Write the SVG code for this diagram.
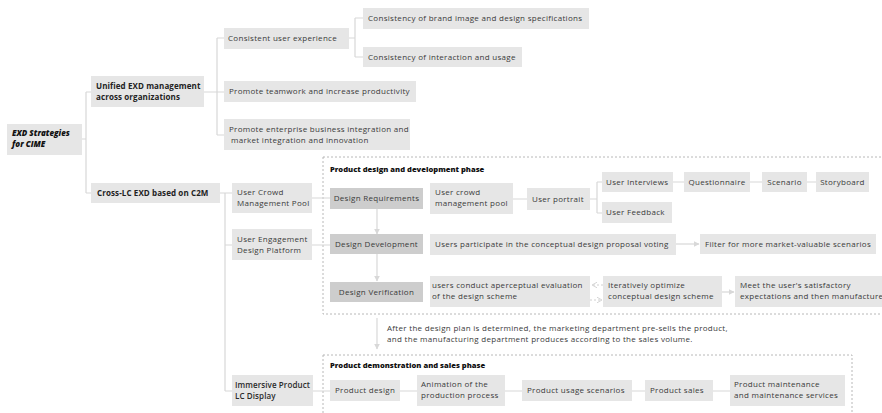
<svg xmlns="http://www.w3.org/2000/svg" width="882" height="413" viewBox="0 0 882 413">
<style>
.b{fill:#e6e6e6}
.d{fill:#cdcdcd}
.t{font-family:"Open Sans","Liberation Sans",sans-serif;font-size:8px;letter-spacing:0.3px;fill:#3a3a3a}
.bt{font-family:"Open Sans","Liberation Sans",sans-serif;font-size:8px;font-weight:700;letter-spacing:0.1px;fill:#222}
.st{font-family:"Open Sans","Liberation Sans",sans-serif;font-size:8px;font-weight:600;letter-spacing:0.1px;fill:#2a2a2a}
.ph{font-family:"Open Sans","Liberation Sans",sans-serif;font-size:7.6px;font-weight:800;fill:#111}
.rt{font-family:"Open Sans","Liberation Sans",sans-serif;font-size:8px;font-weight:800;font-style:italic;fill:#111}
.ln{fill:none;stroke:#d8d8d8;stroke-width:1.2}
.ar{fill:none;stroke:#d8d8d8;stroke-width:1.2;marker-end:url(#ah)}
.da{fill:none;stroke:#d0d0d0;stroke-width:1;stroke-dasharray:2 2;marker-end:url(#oh)}
.box{fill:none;stroke:#b8b8b8;stroke-width:1;stroke-dasharray:2 2}
</style>
<defs>
<marker id="ah" viewBox="0 0 10 10" refX="9" refY="5" markerWidth="6" markerHeight="6" orient="auto" markerUnits="userSpaceOnUse"><path d="M0,0 L10,5 L0,10 z" fill="#d8d8d8"/></marker>
<marker id="oh" viewBox="0 0 10 10" refX="9" refY="5" markerWidth="6" markerHeight="6" orient="auto" markerUnits="userSpaceOnUse"><path d="M0,0 L9,5 L0,10" fill="none" stroke="#d0d0d0" stroke-width="1.5"/></marker>
</defs>
<rect width="882" height="413" fill="#ffffff"/>

<g id="phase-boxes">
<rect class="box" x="323" y="157" width="570" height="157"/>
<rect class="box" x="323" y="355" width="529" height="70"/>
<text class="ph" x="330" y="172">Product design and development phase</text>
<text class="ph" x="330" y="368">Product demonstration and sales phase</text>
</g>

<g id="connectors">
<path class="ln" d="M82,139 H86 M86,92 V193 M86,92 H91 M86,193 H91"/>
<path class="ln" d="M204,92 H217 M217,38 V135 M217,38 H224 M217,92 H224 M217,135 H224"/>
<path class="ln" d="M349,38 H355 M355,18 V57 M355,18 H363 M355,57 H363"/>
<path class="ln" d="M220,193 H232 M225,193 V391 M225,245 H232 M225,391 H232"/>
<path class="ln" d="M312,198 H330 M312,245 H330 M313,391 H330"/>
<path class="ln" d="M513,199 H527 M590,199 H597 M597,182 V213 M597,182 H602 M597,213 H602"/>
<path class="ln" d="M673,182 H684 M750,182 H762 M807,182 H816"/>
<path class="ln" d="M400,391 H417 M505,391 H522 M632,391 H645 M713,391 H730"/>
<path class="ar" d="M377,209 V234"/>
<path class="ar" d="M377,254 V281"/>
<path class="ar" d="M676,244 H699"/>
<path class="ar" d="M722,292 H734"/>
<path class="da" d="M603,285 H592"/>
<path class="da" d="M590,300 H602"/>
<path class="ar" d="M377,318 V349"/>
</g>

<g id="root"><rect class="b" x="7" y="124" width="75" height="31"/>
<text class="rt" x="12" y="136"> EXD Strategies</text><text class="rt" x="12" y="147">for CIME</text></g>

<g id="unified"><rect class="b" x="91" y="76" width="113" height="31"/>
<text class="bt" x="96" y="89">Unified EXD management</text><text class="bt" x="96" y="100">across organizations</text></g>

<g id="crosslc"><rect class="b" x="91" y="183" width="129" height="20"/>
<text class="bt" x="97" y="196">Cross-LC EXD based on C2M</text></g>

<g id="consistent-ux"><rect class="b" x="224" y="28" width="125" height="21"/>
<text class="t" x="228" y="41">Consistent user experience</text></g>

<g id="brand"><rect class="b" x="363" y="8" width="226" height="21"/>
<text class="t" x="368" y="21">Consistency of brand image and design specifications</text></g>

<g id="interaction"><rect class="b" x="363" y="47" width="159" height="20"/>
<text class="t" x="368" y="60">Consistency of interaction and usage</text></g>

<g id="teamwork"><rect class="b" x="224" y="81" width="192" height="21"/>
<text class="t" x="229" y="94">Promote teamwork and increase productivity</text></g>

<g id="enterprise"><rect class="b" x="224" y="119" width="186" height="31"/>
<text class="t" x="229" y="132">Promote enterprise business integration and</text><text class="t" x="231" y="143">market integration and innovation</text></g>

<g id="crowd-pool"><rect class="b" x="232" y="183" width="80" height="30"/>
<text class="t" x="237" y="195">User Crowd</text><text class="t" x="237" y="206">Management Pool</text></g>

<g id="engagement"><rect class="b" x="232" y="229" width="80" height="31"/>
<text class="t" x="237" y="242">User Engagement</text><text class="t" x="237" y="253">Design Platform</text></g>

<g id="immersive"><rect class="b" x="232" y="375" width="81" height="31"/>
<text class="st" x="235" y="388">Immersive Product</text><text class="st" x="235" y="399">LC Display</text></g>

<g id="design-req"><rect class="d" x="330" y="188" width="93" height="21"/>
<text class="t" x="376.5" y="201" text-anchor="middle">Design Requirements</text></g>

<g id="design-dev"><rect class="d" x="330" y="234" width="93" height="20"/>
<text class="t" x="376.5" y="247" text-anchor="middle">Design Development</text></g>

<g id="design-ver"><rect class="d" x="330" y="282" width="93" height="20"/>
<text class="t" x="376.5" y="295" text-anchor="middle">Design Verification</text></g>

<g id="ucmp"><rect class="b" x="430" y="183" width="83" height="31"/>
<text class="t" x="435" y="195">User crowd</text><text class="t" x="435" y="206">management pool</text></g>

<g id="portrait"><rect class="b" x="527" y="188" width="63" height="22"/>
<text class="t" x="532" y="202">User portrait</text></g>

<g id="interviews"><rect class="b" x="602" y="172" width="71" height="20"/>
<text class="t" x="606" y="185">User Interviews</text></g>

<g id="feedback"><rect class="b" x="602" y="202" width="70" height="21"/>
<text class="t" x="606" y="215">User Feedback</text></g>

<g id="questionnaire"><rect class="b" x="684" y="172" width="66" height="20"/>
<text class="t" x="717" y="185" text-anchor="middle">Questionnaire</text></g>

<g id="scenario"><rect class="b" x="762" y="172" width="45" height="20"/>
<text class="t" x="784.5" y="185" text-anchor="middle">Scenario</text></g>

<g id="storyboard"><rect class="b" x="816" y="172" width="53" height="20"/>
<text class="t" x="842.5" y="185" text-anchor="middle">Storyboard</text></g>

<g id="participate"><rect class="b" x="430" y="234" width="246" height="21"/>
<text class="t" x="435" y="247">Users participate in the conceptual design proposal voting</text></g>

<g id="filter"><rect class="b" x="700" y="234" width="176" height="20"/>
<text class="t" x="705" y="247">Filter for more market-valuable scenarios</text></g>

<g id="evaluate"><rect class="b" x="430" y="276" width="160" height="31"/>
<text class="t" x="432" y="288">users conduct aperceptual evaluation</text><text class="t" x="432" y="299">of the design scheme</text></g>

<g id="iterate"><rect class="b" x="603" y="276" width="119" height="31"/>
<text class="t" x="608" y="288">Iteratively optimize</text><text class="t" x="608" y="299">conceptual design scheme</text></g>

<g id="meet"><rect class="b" x="735" y="276" width="150" height="31"/>
<text class="t" x="740" y="288">Meet the user's satisfactory</text><text class="t" x="740" y="299">expectations and then manufacture</text></g>

<g id="note">
<text class="t" x="387" y="331">After the design plan is determined, the marketing department pre-sells the product,</text>
<text class="t" x="387" y="342">and the manufacturing department produces according to the sales volume.</text>
</g>

<g id="product-design"><rect class="b" x="330" y="380" width="70" height="21"/>
<text class="t" x="335" y="393">Product design</text></g>

<g id="animation"><rect class="b" x="417" y="375" width="88" height="31"/>
<text class="t" x="421" y="387">Animation of the</text><text class="t" x="421" y="398">production process</text></g>

<g id="usage"><rect class="b" x="522" y="380" width="110" height="21"/>
<text class="t" x="527" y="393">Product usage scenarios</text></g>

<g id="sales"><rect class="b" x="645" y="380" width="68" height="21"/>
<text class="t" x="650" y="393">Product sales</text></g>

<g id="maintenance"><rect class="b" x="730" y="375" width="115" height="31"/>
<text class="t" x="734" y="387">Product maintenance</text><text class="t" x="734" y="398">and maintenance services</text></g>
</svg>
